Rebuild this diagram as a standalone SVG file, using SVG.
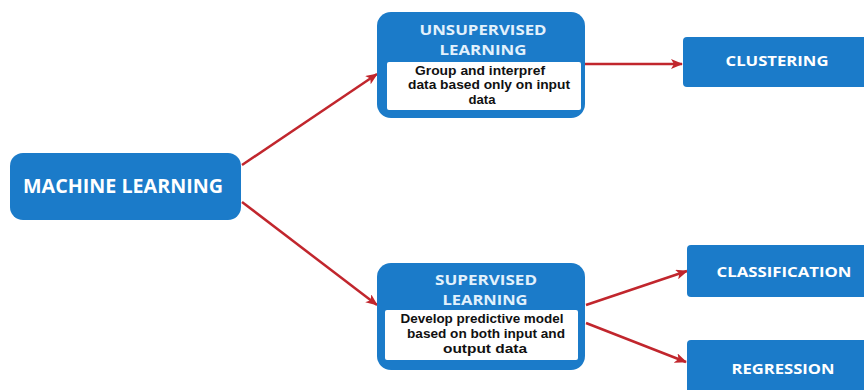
<svg xmlns="http://www.w3.org/2000/svg" width="864" height="390" viewBox="0 0 864 390">
<defs>
<marker id="ah" viewBox="0 0 12 10" refX="11" refY="5" markerWidth="12" markerHeight="10" markerUnits="userSpaceOnUse" orient="auto">
<path d="M0,0 L12,5 L0,10 L3,5 Z" fill="#c1262d"/>
</marker>
<style>
.box{fill:#1b7bc9}
.inner{fill:#ffffff}
text{font-family:"Open Sans","Liberation Sans",sans-serif;font-weight:700;text-anchor:middle}
.lbl{fill:#ffffff}
.ttl{fill:#e2f1fc;font-size:15px}
.desc{fill:#111111;font-size:12px;font-family:"Liberation Sans",Arial,sans-serif}
.conn{stroke:#c1262d;stroke-width:2.5;fill:none;marker-end:url(#ah)}
</style>
</defs>
<rect width="864" height="390" fill="#ffffff"/>
<g id="connectors">
<line class="conn" x1="242" y1="165" x2="377" y2="74"/>
<line class="conn" x1="242" y1="202" x2="377" y2="305"/>
<line class="conn" x1="585" y1="64" x2="682" y2="64"/>
<line class="conn" x1="586" y1="305" x2="687" y2="271"/>
<line class="conn" x1="586" y1="323" x2="686" y2="362"/>
</g>
<g id="machine-learning">
<rect class="box" x="10" y="153" width="231" height="67" rx="13"/>
<text class="lbl" x="123" y="193" font-size="19" textLength="200" lengthAdjust="spacingAndGlyphs">MACHINE LEARNING</text>
</g>
<g id="unsupervised">
<rect class="box" x="377" y="12" width="208" height="106" rx="14"/>
<rect class="inner" x="387" y="62" width="194" height="48" rx="2"/>
<text class="ttl" x="483" y="35" textLength="127" lengthAdjust="spacingAndGlyphs">UNSUPERVISED</text>
<text class="ttl" x="483" y="55" textLength="87" lengthAdjust="spacingAndGlyphs">LEARNING</text>
<text class="desc" x="480" y="75" textLength="130" lengthAdjust="spacingAndGlyphs">Group and interpref</text>
<text class="desc" x="489" y="89" textLength="162" lengthAdjust="spacingAndGlyphs">data based only on input</text>
<text class="desc" x="482" y="104" textLength="27" lengthAdjust="spacingAndGlyphs">data</text>
</g>
<g id="supervised">
<rect class="box" x="377" y="263" width="208" height="107" rx="14"/>
<rect class="inner" x="385" y="310" width="193" height="50" rx="2"/>
<text class="ttl" x="486" y="285" textLength="102" lengthAdjust="spacingAndGlyphs">SUPERVISED</text>
<text class="ttl" x="485" y="305" textLength="85" lengthAdjust="spacingAndGlyphs">LEARNING</text>
<text class="desc" x="482" y="323" textLength="163" lengthAdjust="spacingAndGlyphs">Develop predictive model</text>
<text class="desc" x="486" y="338" textLength="158" lengthAdjust="spacingAndGlyphs">based on both input and</text>
<text class="desc" x="485" y="353" textLength="84" lengthAdjust="spacingAndGlyphs">output data</text>
</g>
<g id="clustering">
<rect class="box" x="683" y="37" width="185" height="50" rx="4"/>
<text class="lbl" x="777" y="66" font-size="15" textLength="103" lengthAdjust="spacingAndGlyphs">CLUSTERING</text>
</g>
<g id="classification">
<rect class="box" x="687" y="245" width="181" height="52" rx="4"/>
<text class="lbl" x="784" y="277" font-size="15" textLength="135" lengthAdjust="spacingAndGlyphs">CLASSIFICATION</text>
</g>
<g id="regression">
<rect class="box" x="687" y="340" width="181" height="60" rx="4"/>
<text class="lbl" x="783" y="374" font-size="15" textLength="103" lengthAdjust="spacingAndGlyphs">REGRESSION</text>
</g>
</svg>
